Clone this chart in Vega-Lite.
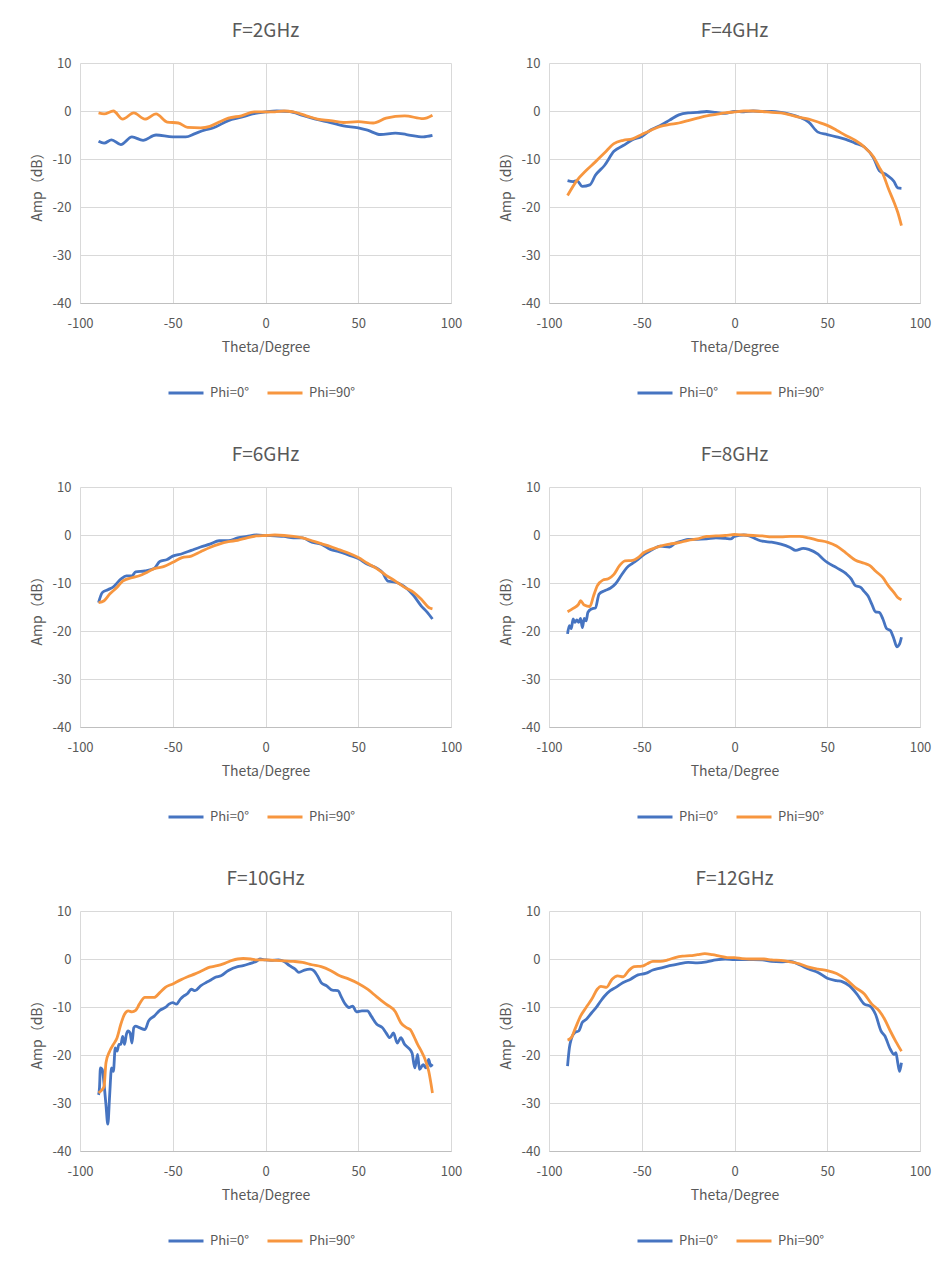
{
"$schema":"https://vega.github.io/schema/vega-lite/v6.json",
"background":"white",
"padding":{"top":22,"left":30,"right":5,"bottom":5},
"columns":2,
"spacing":{"column":37,"row":46},
"resolve":{"legend":{"color":"independent"}},
"datasets":{
"f2":[
{"p":"Phi=0°","t":-90,"a":-6.3},{"p":"Phi=0°","t":-87,"a":-6.7},{"p":"Phi=0°","t":-83,"a":-6.0},{"p":"Phi=0°","t":-78,"a":-7.0},{"p":"Phi=0°","t":-72,"a":-5.4},{"p":"Phi=0°","t":-66,"a":-6.1},{"p":"Phi=0°","t":-59,"a":-5.0},{"p":"Phi=0°","t":-50,"a":-5.4},{"p":"Phi=0°","t":-43,"a":-5.4},{"p":"Phi=0°","t":-38,"a":-4.7},{"p":"Phi=0°","t":-33,"a":-4.0},{"p":"Phi=0°","t":-28,"a":-3.5},{"p":"Phi=0°","t":-20,"a":-2.0},{"p":"Phi=0°","t":-13,"a":-1.3},{"p":"Phi=0°","t":-7,"a":-0.6},{"p":"Phi=0°","t":0,"a":-0.2},{"p":"Phi=0°","t":6,"a":0},{"p":"Phi=0°","t":13,"a":-0.1},{"p":"Phi=0°","t":20,"a":-0.9},{"p":"Phi=0°","t":27,"a":-1.7},{"p":"Phi=0°","t":35,"a":-2.4},{"p":"Phi=0°","t":42,"a":-3.1},{"p":"Phi=0°","t":50,"a":-3.5},{"p":"Phi=0°","t":55,"a":-4.0},{"p":"Phi=0°","t":62,"a":-4.9},{"p":"Phi=0°","t":70,"a":-4.6},{"p":"Phi=0°","t":76,"a":-4.9},{"p":"Phi=0°","t":85,"a":-5.4},{"p":"Phi=0°","t":90,"a":-5.1},
{"p":"Phi=90°","t":-90,"a":-0.4},{"p":"Phi=90°","t":-87,"a":-0.6},{"p":"Phi=90°","t":-82,"a":0},{"p":"Phi=90°","t":-77,"a":-1.7},{"p":"Phi=90°","t":-71,"a":-0.4},{"p":"Phi=90°","t":-65,"a":-1.7},{"p":"Phi=90°","t":-59,"a":-0.6},{"p":"Phi=90°","t":-53,"a":-2.3},{"p":"Phi=90°","t":-47,"a":-2.5},{"p":"Phi=90°","t":-42,"a":-3.4},{"p":"Phi=90°","t":-35,"a":-3.5},{"p":"Phi=90°","t":-30,"a":-3.2},{"p":"Phi=90°","t":-25,"a":-2.3},{"p":"Phi=90°","t":-20,"a":-1.5},{"p":"Phi=90°","t":-13,"a":-1.0},{"p":"Phi=90°","t":-6,"a":-0.2},{"p":"Phi=90°","t":-1,"a":-0.2},{"p":"Phi=90°","t":5,"a":-0.2},{"p":"Phi=90°","t":10,"a":0},{"p":"Phi=90°","t":15,"a":-0.2},{"p":"Phi=90°","t":22,"a":-1.0},{"p":"Phi=90°","t":28,"a":-1.7},{"p":"Phi=90°","t":35,"a":-2.0},{"p":"Phi=90°","t":42,"a":-2.4},{"p":"Phi=90°","t":50,"a":-2.2},{"p":"Phi=90°","t":58,"a":-2.5},{"p":"Phi=90°","t":65,"a":-1.5},{"p":"Phi=90°","t":75,"a":-1.0},{"p":"Phi=90°","t":85,"a":-1.6},{"p":"Phi=90°","t":90,"a":-0.9}
],
"f4":[
{"p":"Phi=0°","t":-90,"a":-14.5},{"p":"Phi=0°","t":-87,"a":-14.7},{"p":"Phi=0°","t":-85,"a":-14.5},{"p":"Phi=0°","t":-82,"a":-15.7},{"p":"Phi=0°","t":-78,"a":-15.4},{"p":"Phi=0°","t":-75,"a":-13.4},{"p":"Phi=0°","t":-70,"a":-11.3},{"p":"Phi=0°","t":-65,"a":-8.4},{"p":"Phi=0°","t":-60,"a":-7.2},{"p":"Phi=0°","t":-55,"a":-6.0},{"p":"Phi=0°","t":-50,"a":-5.3},{"p":"Phi=0°","t":-45,"a":-3.9},{"p":"Phi=0°","t":-40,"a":-3.0},{"p":"Phi=0°","t":-35,"a":-1.9},{"p":"Phi=0°","t":-30,"a":-0.8},{"p":"Phi=0°","t":-25,"a":-0.4},{"p":"Phi=0°","t":-20,"a":-0.3},{"p":"Phi=0°","t":-15,"a":-0.1},{"p":"Phi=0°","t":-10,"a":-0.3},{"p":"Phi=0°","t":-5,"a":-0.5},{"p":"Phi=0°","t":0,"a":-0.1},{"p":"Phi=0°","t":5,"a":-0.2},{"p":"Phi=0°","t":10,"a":0},{"p":"Phi=0°","t":15,"a":-0.1},{"p":"Phi=0°","t":20,"a":-0.1},{"p":"Phi=0°","t":25,"a":-0.3},{"p":"Phi=0°","t":30,"a":-0.7},{"p":"Phi=0°","t":35,"a":-1.3},{"p":"Phi=0°","t":40,"a":-2.3},{"p":"Phi=0°","t":45,"a":-4.4},{"p":"Phi=0°","t":50,"a":-4.9},{"p":"Phi=0°","t":55,"a":-5.4},{"p":"Phi=0°","t":60,"a":-5.9},{"p":"Phi=0°","t":65,"a":-6.7},{"p":"Phi=0°","t":70,"a":-7.5},{"p":"Phi=0°","t":75,"a":-9.8},{"p":"Phi=0°","t":78,"a":-12.4},{"p":"Phi=0°","t":82,"a":-13.3},{"p":"Phi=0°","t":86,"a":-14.7},{"p":"Phi=0°","t":88,"a":-16.0},{"p":"Phi=0°","t":90,"a":-16.1},
{"p":"Phi=90°","t":-90,"a":-17.6},{"p":"Phi=90°","t":-85,"a":-14.5},{"p":"Phi=90°","t":-80,"a":-12.4},{"p":"Phi=90°","t":-75,"a":-10.6},{"p":"Phi=90°","t":-70,"a":-8.7},{"p":"Phi=90°","t":-65,"a":-6.8},{"p":"Phi=90°","t":-60,"a":-6.1},{"p":"Phi=90°","t":-55,"a":-5.8},{"p":"Phi=90°","t":-50,"a":-4.9},{"p":"Phi=90°","t":-45,"a":-4.0},{"p":"Phi=90°","t":-40,"a":-3.2},{"p":"Phi=90°","t":-35,"a":-2.8},{"p":"Phi=90°","t":-30,"a":-2.5},{"p":"Phi=90°","t":-25,"a":-2.0},{"p":"Phi=90°","t":-20,"a":-1.5},{"p":"Phi=90°","t":-15,"a":-1.0},{"p":"Phi=90°","t":-10,"a":-0.7},{"p":"Phi=90°","t":-5,"a":-0.4},{"p":"Phi=90°","t":0,"a":-0.2},{"p":"Phi=90°","t":5,"a":0},{"p":"Phi=90°","t":10,"a":0},{"p":"Phi=90°","t":15,"a":-0.1},{"p":"Phi=90°","t":20,"a":-0.3},{"p":"Phi=90°","t":25,"a":-0.4},{"p":"Phi=90°","t":30,"a":-0.8},{"p":"Phi=90°","t":35,"a":-1.3},{"p":"Phi=90°","t":40,"a":-1.7},{"p":"Phi=90°","t":45,"a":-2.3},{"p":"Phi=90°","t":50,"a":-3.0},{"p":"Phi=90°","t":55,"a":-4.0},{"p":"Phi=90°","t":60,"a":-5.1},{"p":"Phi=90°","t":65,"a":-6.1},{"p":"Phi=90°","t":70,"a":-7.5},{"p":"Phi=90°","t":75,"a":-9.6},{"p":"Phi=90°","t":78,"a":-11.7},{"p":"Phi=90°","t":80,"a":-13.1},{"p":"Phi=90°","t":83,"a":-16.2},{"p":"Phi=90°","t":86,"a":-19.0},{"p":"Phi=90°","t":88,"a":-21.1},{"p":"Phi=90°","t":90,"a":-23.9}
],
"f6":[
{"p":"Phi=0°","t":-90,"a":-14.1},{"p":"Phi=0°","t":-88,"a":-12.0},{"p":"Phi=0°","t":-85,"a":-11.4},{"p":"Phi=0°","t":-82,"a":-10.8},{"p":"Phi=0°","t":-78,"a":-9.2},{"p":"Phi=0°","t":-75,"a":-8.5},{"p":"Phi=0°","t":-72,"a":-8.5},{"p":"Phi=0°","t":-70,"a":-7.7},{"p":"Phi=0°","t":-65,"a":-7.5},{"p":"Phi=0°","t":-60,"a":-7.0},{"p":"Phi=0°","t":-57,"a":-5.5},{"p":"Phi=0°","t":-53,"a":-5.1},{"p":"Phi=0°","t":-50,"a":-4.4},{"p":"Phi=0°","t":-45,"a":-3.9},{"p":"Phi=0°","t":-40,"a":-3.2},{"p":"Phi=0°","t":-35,"a":-2.5},{"p":"Phi=0°","t":-30,"a":-1.9},{"p":"Phi=0°","t":-25,"a":-1.2},{"p":"Phi=0°","t":-20,"a":-1.2},{"p":"Phi=0°","t":-15,"a":-0.6},{"p":"Phi=0°","t":-10,"a":-0.3},{"p":"Phi=0°","t":-5,"a":0},{"p":"Phi=0°","t":0,"a":-0.1},{"p":"Phi=0°","t":5,"a":-0.2},{"p":"Phi=0°","t":10,"a":-0.3},{"p":"Phi=0°","t":15,"a":-0.6},{"p":"Phi=0°","t":20,"a":-0.6},{"p":"Phi=0°","t":25,"a":-1.5},{"p":"Phi=0°","t":30,"a":-1.9},{"p":"Phi=0°","t":35,"a":-3.0},{"p":"Phi=0°","t":40,"a":-3.5},{"p":"Phi=0°","t":45,"a":-4.2},{"p":"Phi=0°","t":50,"a":-4.9},{"p":"Phi=0°","t":55,"a":-6.1},{"p":"Phi=0°","t":60,"a":-6.9},{"p":"Phi=0°","t":63,"a":-7.8},{"p":"Phi=0°","t":66,"a":-9.6},{"p":"Phi=0°","t":70,"a":-9.8},{"p":"Phi=0°","t":73,"a":-10.3},{"p":"Phi=0°","t":76,"a":-11.1},{"p":"Phi=0°","t":80,"a":-12.7},{"p":"Phi=0°","t":84,"a":-14.8},{"p":"Phi=0°","t":87,"a":-16.0},{"p":"Phi=0°","t":90,"a":-17.5},
{"p":"Phi=90°","t":-90,"a":-14.1},{"p":"Phi=90°","t":-87,"a":-13.7},{"p":"Phi=90°","t":-84,"a":-12.3},{"p":"Phi=90°","t":-80,"a":-10.9},{"p":"Phi=90°","t":-77,"a":-9.6},{"p":"Phi=90°","t":-72,"a":-8.9},{"p":"Phi=90°","t":-68,"a":-8.5},{"p":"Phi=90°","t":-64,"a":-7.8},{"p":"Phi=90°","t":-60,"a":-7.0},{"p":"Phi=90°","t":-55,"a":-6.6},{"p":"Phi=90°","t":-50,"a":-5.7},{"p":"Phi=90°","t":-45,"a":-4.7},{"p":"Phi=90°","t":-40,"a":-4.4},{"p":"Phi=90°","t":-35,"a":-3.5},{"p":"Phi=90°","t":-30,"a":-2.6},{"p":"Phi=90°","t":-25,"a":-1.9},{"p":"Phi=90°","t":-20,"a":-1.4},{"p":"Phi=90°","t":-15,"a":-1.1},{"p":"Phi=90°","t":-10,"a":-0.6},{"p":"Phi=90°","t":-5,"a":-0.2},{"p":"Phi=90°","t":0,"a":-0.1},{"p":"Phi=90°","t":5,"a":0},{"p":"Phi=90°","t":10,"a":-0.1},{"p":"Phi=90°","t":15,"a":-0.3},{"p":"Phi=90°","t":20,"a":-0.6},{"p":"Phi=90°","t":25,"a":-1.2},{"p":"Phi=90°","t":30,"a":-1.8},{"p":"Phi=90°","t":35,"a":-2.4},{"p":"Phi=90°","t":40,"a":-3.1},{"p":"Phi=90°","t":45,"a":-3.8},{"p":"Phi=90°","t":50,"a":-4.7},{"p":"Phi=90°","t":55,"a":-5.9},{"p":"Phi=90°","t":60,"a":-7.0},{"p":"Phi=90°","t":65,"a":-8.4},{"p":"Phi=90°","t":70,"a":-9.6},{"p":"Phi=90°","t":75,"a":-10.9},{"p":"Phi=90°","t":80,"a":-12.0},{"p":"Phi=90°","t":84,"a":-13.4},{"p":"Phi=90°","t":88,"a":-15.1},{"p":"Phi=90°","t":90,"a":-15.4}
],
"f8":[
{"p":"Phi=0°","t":-90,"a":-20.6},{"p":"Phi=0°","t":-89,"a":-18.9},{"p":"Phi=0°","t":-88,"a":-19.5},{"p":"Phi=0°","t":-87,"a":-17.5},{"p":"Phi=0°","t":-86,"a":-18.2},{"p":"Phi=0°","t":-85,"a":-17.7},{"p":"Phi=0°","t":-84,"a":-18.2},{"p":"Phi=0°","t":-83,"a":-17.4},{"p":"Phi=0°","t":-82,"a":-19.3},{"p":"Phi=0°","t":-81,"a":-17.4},{"p":"Phi=0°","t":-80,"a":-17.9},{"p":"Phi=0°","t":-79,"a":-16.1},{"p":"Phi=0°","t":-77,"a":-15.4},{"p":"Phi=0°","t":-75,"a":-15.2},{"p":"Phi=0°","t":-73,"a":-12.3},{"p":"Phi=0°","t":-70,"a":-11.6},{"p":"Phi=0°","t":-67,"a":-11.1},{"p":"Phi=0°","t":-64,"a":-10.1},{"p":"Phi=0°","t":-61,"a":-8.4},{"p":"Phi=0°","t":-58,"a":-6.8},{"p":"Phi=0°","t":-55,"a":-5.9},{"p":"Phi=0°","t":-52,"a":-5.1},{"p":"Phi=0°","t":-50,"a":-4.4},{"p":"Phi=0°","t":-45,"a":-3.2},{"p":"Phi=0°","t":-40,"a":-2.3},{"p":"Phi=0°","t":-35,"a":-2.5},{"p":"Phi=0°","t":-32,"a":-1.7},{"p":"Phi=0°","t":-28,"a":-1.2},{"p":"Phi=0°","t":-25,"a":-0.9},{"p":"Phi=0°","t":-20,"a":-0.9},{"p":"Phi=0°","t":-15,"a":-0.8},{"p":"Phi=0°","t":-10,"a":-0.6},{"p":"Phi=0°","t":-5,"a":-0.7},{"p":"Phi=0°","t":-2,"a":-0.8},{"p":"Phi=0°","t":0,"a":-0.3},{"p":"Phi=0°","t":5,"a":0},{"p":"Phi=0°","t":8,"a":-0.2},{"p":"Phi=0°","t":12,"a":-0.9},{"p":"Phi=0°","t":15,"a":-1.3},{"p":"Phi=0°","t":20,"a":-1.5},{"p":"Phi=0°","t":25,"a":-1.9},{"p":"Phi=0°","t":30,"a":-2.6},{"p":"Phi=0°","t":33,"a":-3.2},{"p":"Phi=0°","t":37,"a":-2.8},{"p":"Phi=0°","t":40,"a":-3.0},{"p":"Phi=0°","t":45,"a":-4.0},{"p":"Phi=0°","t":48,"a":-5.1},{"p":"Phi=0°","t":50,"a":-5.7},{"p":"Phi=0°","t":55,"a":-6.8},{"p":"Phi=0°","t":60,"a":-8.0},{"p":"Phi=0°","t":63,"a":-9.2},{"p":"Phi=0°","t":65,"a":-10.5},{"p":"Phi=0°","t":68,"a":-10.9},{"p":"Phi=0°","t":70,"a":-11.8},{"p":"Phi=0°","t":72,"a":-12.7},{"p":"Phi=0°","t":74,"a":-14.4},{"p":"Phi=0°","t":76,"a":-16.0},{"p":"Phi=0°","t":78,"a":-16.1},{"p":"Phi=0°","t":80,"a":-17.5},{"p":"Phi=0°","t":82,"a":-19.5},{"p":"Phi=0°","t":84,"a":-19.9},{"p":"Phi=0°","t":86,"a":-21.7},{"p":"Phi=0°","t":87.5,"a":-23.3},{"p":"Phi=0°","t":89,"a":-22.7},{"p":"Phi=0°","t":90,"a":-21.3},
{"p":"Phi=90°","t":-90,"a":-16.0},{"p":"Phi=90°","t":-87,"a":-15.3},{"p":"Phi=90°","t":-84,"a":-14.4},{"p":"Phi=90°","t":-83,"a":-13.7},{"p":"Phi=90°","t":-81,"a":-14.6},{"p":"Phi=90°","t":-78,"a":-14.9},{"p":"Phi=90°","t":-76,"a":-12.7},{"p":"Phi=90°","t":-74,"a":-10.6},{"p":"Phi=90°","t":-71,"a":-9.4},{"p":"Phi=90°","t":-68,"a":-9.1},{"p":"Phi=90°","t":-65,"a":-8.2},{"p":"Phi=90°","t":-62,"a":-6.4},{"p":"Phi=90°","t":-59,"a":-5.4},{"p":"Phi=90°","t":-55,"a":-5.3},{"p":"Phi=90°","t":-52,"a":-4.7},{"p":"Phi=90°","t":-49,"a":-3.7},{"p":"Phi=90°","t":-45,"a":-3.0},{"p":"Phi=90°","t":-40,"a":-2.3},{"p":"Phi=90°","t":-35,"a":-1.9},{"p":"Phi=90°","t":-30,"a":-1.6},{"p":"Phi=90°","t":-25,"a":-1.1},{"p":"Phi=90°","t":-20,"a":-0.8},{"p":"Phi=90°","t":-15,"a":-0.3},{"p":"Phi=90°","t":-10,"a":-0.2},{"p":"Phi=90°","t":-5,"a":-0.1},{"p":"Phi=90°","t":0,"a":0.1},{"p":"Phi=90°","t":5,"a":0},{"p":"Phi=90°","t":10,"a":-0.1},{"p":"Phi=90°","t":15,"a":-0.2},{"p":"Phi=90°","t":20,"a":-0.4},{"p":"Phi=90°","t":25,"a":-0.4},{"p":"Phi=90°","t":30,"a":-0.3},{"p":"Phi=90°","t":35,"a":-0.3},{"p":"Phi=90°","t":40,"a":-0.6},{"p":"Phi=90°","t":45,"a":-1.1},{"p":"Phi=90°","t":50,"a":-1.5},{"p":"Phi=90°","t":55,"a":-2.3},{"p":"Phi=90°","t":60,"a":-3.7},{"p":"Phi=90°","t":65,"a":-5.2},{"p":"Phi=90°","t":70,"a":-5.9},{"p":"Phi=90°","t":73,"a":-6.4},{"p":"Phi=90°","t":76,"a":-7.5},{"p":"Phi=90°","t":80,"a":-8.9},{"p":"Phi=90°","t":83,"a":-10.6},{"p":"Phi=90°","t":86,"a":-12.0},{"p":"Phi=90°","t":88,"a":-13.0},{"p":"Phi=90°","t":90,"a":-13.5}
],
"f10":[
{"p":"Phi=0°","t":-90,"a":-28.3},{"p":"Phi=0°","t":-89.5,"a":-26.9},{"p":"Phi=0°","t":-89,"a":-22.7},{"p":"Phi=0°","t":-88,"a":-23.0},{"p":"Phi=0°","t":-87,"a":-26.2},{"p":"Phi=0°","t":-86,"a":-30.4},{"p":"Phi=0°","t":-85,"a":-34.4},{"p":"Phi=0°","t":-84,"a":-28.3},{"p":"Phi=0°","t":-83,"a":-22.7},{"p":"Phi=0°","t":-82,"a":-23.4},{"p":"Phi=0°","t":-81,"a":-18.5},{"p":"Phi=0°","t":-80,"a":-19.2},{"p":"Phi=0°","t":-79,"a":-17.8},{"p":"Phi=0°","t":-78,"a":-17.8},{"p":"Phi=0°","t":-77,"a":-16.1},{"p":"Phi=0°","t":-76,"a":-17.8},{"p":"Phi=0°","t":-75,"a":-15.7},{"p":"Phi=0°","t":-74,"a":-15.0},{"p":"Phi=0°","t":-73,"a":-15.4},{"p":"Phi=0°","t":-72,"a":-17.5},{"p":"Phi=0°","t":-71,"a":-14.3},{"p":"Phi=0°","t":-70,"a":-14.0},{"p":"Phi=0°","t":-68,"a":-14.3},{"p":"Phi=0°","t":-65,"a":-14.7},{"p":"Phi=0°","t":-63,"a":-12.9},{"p":"Phi=0°","t":-60,"a":-11.9},{"p":"Phi=0°","t":-57,"a":-10.7},{"p":"Phi=0°","t":-54,"a":-10.1},{"p":"Phi=0°","t":-52,"a":-9.4},{"p":"Phi=0°","t":-50,"a":-9.1},{"p":"Phi=0°","t":-48,"a":-9.4},{"p":"Phi=0°","t":-46,"a":-8.4},{"p":"Phi=0°","t":-44,"a":-7.7},{"p":"Phi=0°","t":-42,"a":-7.2},{"p":"Phi=0°","t":-40,"a":-6.3},{"p":"Phi=0°","t":-38,"a":-6.6},{"p":"Phi=0°","t":-35,"a":-5.6},{"p":"Phi=0°","t":-32,"a":-4.9},{"p":"Phi=0°","t":-30,"a":-4.5},{"p":"Phi=0°","t":-27,"a":-3.8},{"p":"Phi=0°","t":-24,"a":-3.5},{"p":"Phi=0°","t":-20,"a":-2.4},{"p":"Phi=0°","t":-15,"a":-1.6},{"p":"Phi=0°","t":-12,"a":-1.4},{"p":"Phi=0°","t":-8,"a":-0.9},{"p":"Phi=0°","t":-5,"a":-0.5},{"p":"Phi=0°","t":-3,"a":0},{"p":"Phi=0°","t":0,"a":-0.2},{"p":"Phi=0°","t":3,"a":-0.3},{"p":"Phi=0°","t":7,"a":-0.2},{"p":"Phi=0°","t":10,"a":-0.5},{"p":"Phi=0°","t":13,"a":-1.4},{"p":"Phi=0°","t":16,"a":-2.1},{"p":"Phi=0°","t":18,"a":-2.8},{"p":"Phi=0°","t":21,"a":-2.3},{"p":"Phi=0°","t":24,"a":-2.1},{"p":"Phi=0°","t":26,"a":-2.4},{"p":"Phi=0°","t":28,"a":-3.5},{"p":"Phi=0°","t":30,"a":-4.9},{"p":"Phi=0°","t":33,"a":-5.6},{"p":"Phi=0°","t":36,"a":-6.5},{"p":"Phi=0°","t":39,"a":-6.6},{"p":"Phi=0°","t":41,"a":-8.0},{"p":"Phi=0°","t":43,"a":-9.4},{"p":"Phi=0°","t":45,"a":-10.1},{"p":"Phi=0°","t":47,"a":-9.8},{"p":"Phi=0°","t":49,"a":-11.0},{"p":"Phi=0°","t":52,"a":-10.8},{"p":"Phi=0°","t":55,"a":-10.8},{"p":"Phi=0°","t":57,"a":-11.9},{"p":"Phi=0°","t":60,"a":-13.6},{"p":"Phi=0°","t":63,"a":-14.3},{"p":"Phi=0°","t":65,"a":-15.4},{"p":"Phi=0°","t":67,"a":-16.4},{"p":"Phi=0°","t":69,"a":-15.4},{"p":"Phi=0°","t":71,"a":-17.5},{"p":"Phi=0°","t":73,"a":-16.4},{"p":"Phi=0°","t":75,"a":-17.8},{"p":"Phi=0°","t":77,"a":-18.5},{"p":"Phi=0°","t":79,"a":-19.6},{"p":"Phi=0°","t":80.5,"a":-22.7},{"p":"Phi=0°","t":82,"a":-19.9},{"p":"Phi=0°","t":83,"a":-23.0},{"p":"Phi=0°","t":85,"a":-22.0},{"p":"Phi=0°","t":86.5,"a":-22.7},{"p":"Phi=0°","t":88,"a":-20.9},{"p":"Phi=0°","t":89,"a":-22.3},{"p":"Phi=0°","t":90,"a":-21.9},
{"p":"Phi=90°","t":-90,"a":-27.9},{"p":"Phi=90°","t":-88,"a":-27.2},{"p":"Phi=90°","t":-87,"a":-26.5},{"p":"Phi=90°","t":-86,"a":-21.6},{"p":"Phi=90°","t":-84,"a":-19.2},{"p":"Phi=90°","t":-82,"a":-17.8},{"p":"Phi=90°","t":-80,"a":-16.4},{"p":"Phi=90°","t":-78,"a":-13.6},{"p":"Phi=90°","t":-76,"a":-11.5},{"p":"Phi=90°","t":-74,"a":-10.8},{"p":"Phi=90°","t":-72,"a":-11.0},{"p":"Phi=90°","t":-70,"a":-10.7},{"p":"Phi=90°","t":-68,"a":-9.4},{"p":"Phi=90°","t":-65,"a":-8.0},{"p":"Phi=90°","t":-62,"a":-8.0},{"p":"Phi=90°","t":-60,"a":-8.0},{"p":"Phi=90°","t":-57,"a":-7.0},{"p":"Phi=90°","t":-54,"a":-5.9},{"p":"Phi=90°","t":-50,"a":-5.2},{"p":"Phi=90°","t":-46,"a":-4.4},{"p":"Phi=90°","t":-42,"a":-3.7},{"p":"Phi=90°","t":-38,"a":-3.1},{"p":"Phi=90°","t":-34,"a":-2.4},{"p":"Phi=90°","t":-30,"a":-1.7},{"p":"Phi=90°","t":-26,"a":-1.4},{"p":"Phi=90°","t":-22,"a":-0.9},{"p":"Phi=90°","t":-18,"a":-0.3},{"p":"Phi=90°","t":-15,"a":0},{"p":"Phi=90°","t":-12,"a":0.1},{"p":"Phi=90°","t":-8,"a":0},{"p":"Phi=90°","t":-5,"a":-0.2},{"p":"Phi=90°","t":0,"a":-0.2},{"p":"Phi=90°","t":5,"a":-0.3},{"p":"Phi=90°","t":10,"a":-0.4},{"p":"Phi=90°","t":15,"a":-0.5},{"p":"Phi=90°","t":20,"a":-0.7},{"p":"Phi=90°","t":25,"a":-1.2},{"p":"Phi=90°","t":30,"a":-1.6},{"p":"Phi=90°","t":35,"a":-2.4},{"p":"Phi=90°","t":40,"a":-3.5},{"p":"Phi=90°","t":45,"a":-4.2},{"p":"Phi=90°","t":50,"a":-5.1},{"p":"Phi=90°","t":55,"a":-6.3},{"p":"Phi=90°","t":60,"a":-7.9},{"p":"Phi=90°","t":65,"a":-9.4},{"p":"Phi=90°","t":70,"a":-11.0},{"p":"Phi=90°","t":73,"a":-13.3},{"p":"Phi=90°","t":76,"a":-14.3},{"p":"Phi=90°","t":78,"a":-14.7},{"p":"Phi=90°","t":80,"a":-16.1},{"p":"Phi=90°","t":82,"a":-17.8},{"p":"Phi=90°","t":84,"a":-19.2},{"p":"Phi=90°","t":86,"a":-20.9},{"p":"Phi=90°","t":88,"a":-23.4},{"p":"Phi=90°","t":90,"a":-27.9}
],
"f12":[
{"p":"Phi=0°","t":-90,"a":-22.3},{"p":"Phi=0°","t":-89,"a":-18.5},{"p":"Phi=0°","t":-88,"a":-16.7},{"p":"Phi=0°","t":-86,"a":-15.3},{"p":"Phi=0°","t":-84,"a":-15.0},{"p":"Phi=0°","t":-82,"a":-13.2},{"p":"Phi=0°","t":-80,"a":-12.6},{"p":"Phi=0°","t":-77,"a":-11.2},{"p":"Phi=0°","t":-74,"a":-9.8},{"p":"Phi=0°","t":-72,"a":-8.7},{"p":"Phi=0°","t":-70,"a":-7.7},{"p":"Phi=0°","t":-67,"a":-6.6},{"p":"Phi=0°","t":-64,"a":-5.9},{"p":"Phi=0°","t":-60,"a":-4.9},{"p":"Phi=0°","t":-56,"a":-4.2},{"p":"Phi=0°","t":-52,"a":-3.3},{"p":"Phi=0°","t":-48,"a":-3.0},{"p":"Phi=0°","t":-44,"a":-2.3},{"p":"Phi=0°","t":-40,"a":-1.9},{"p":"Phi=0°","t":-35,"a":-1.4},{"p":"Phi=0°","t":-30,"a":-1.0},{"p":"Phi=0°","t":-25,"a":-0.7},{"p":"Phi=0°","t":-20,"a":-0.8},{"p":"Phi=0°","t":-15,"a":-0.6},{"p":"Phi=0°","t":-10,"a":-0.2},{"p":"Phi=0°","t":-5,"a":0},{"p":"Phi=0°","t":0,"a":-0.1},{"p":"Phi=0°","t":5,"a":-0.1},{"p":"Phi=0°","t":10,"a":-0.1},{"p":"Phi=0°","t":15,"a":-0.2},{"p":"Phi=0°","t":20,"a":-0.5},{"p":"Phi=0°","t":25,"a":-0.6},{"p":"Phi=0°","t":30,"a":-0.5},{"p":"Phi=0°","t":35,"a":-1.2},{"p":"Phi=0°","t":40,"a":-2.1},{"p":"Phi=0°","t":45,"a":-2.8},{"p":"Phi=0°","t":50,"a":-4.0},{"p":"Phi=0°","t":55,"a":-4.5},{"p":"Phi=0°","t":58,"a":-4.7},{"p":"Phi=0°","t":62,"a":-5.6},{"p":"Phi=0°","t":66,"a":-7.3},{"p":"Phi=0°","t":70,"a":-9.4},{"p":"Phi=0°","t":73,"a":-9.8},{"p":"Phi=0°","t":76,"a":-11.5},{"p":"Phi=0°","t":79,"a":-15.0},{"p":"Phi=0°","t":81,"a":-16.0},{"p":"Phi=0°","t":84,"a":-18.8},{"p":"Phi=0°","t":86,"a":-19.9},{"p":"Phi=0°","t":87,"a":-19.5},{"p":"Phi=0°","t":88,"a":-21.6},{"p":"Phi=0°","t":89,"a":-23.4},{"p":"Phi=0°","t":90,"a":-21.6},
{"p":"Phi=90°","t":-90,"a":-16.9},{"p":"Phi=90°","t":-88,"a":-16.4},{"p":"Phi=90°","t":-86,"a":-14.6},{"p":"Phi=90°","t":-83,"a":-11.9},{"p":"Phi=90°","t":-80,"a":-10.1},{"p":"Phi=90°","t":-77,"a":-8.4},{"p":"Phi=90°","t":-74,"a":-6.3},{"p":"Phi=90°","t":-72,"a":-5.7},{"p":"Phi=90°","t":-69,"a":-5.9},{"p":"Phi=90°","t":-66,"a":-4.2},{"p":"Phi=90°","t":-63,"a":-3.5},{"p":"Phi=90°","t":-60,"a":-3.7},{"p":"Phi=90°","t":-57,"a":-2.4},{"p":"Phi=90°","t":-54,"a":-1.6},{"p":"Phi=90°","t":-50,"a":-1.5},{"p":"Phi=90°","t":-47,"a":-1.0},{"p":"Phi=90°","t":-44,"a":-0.5},{"p":"Phi=90°","t":-40,"a":-0.5},{"p":"Phi=90°","t":-36,"a":-0.2},{"p":"Phi=90°","t":-32,"a":0.3},{"p":"Phi=90°","t":-28,"a":0.6},{"p":"Phi=90°","t":-24,"a":0.7},{"p":"Phi=90°","t":-20,"a":0.9},{"p":"Phi=90°","t":-16,"a":1.1},{"p":"Phi=90°","t":-12,"a":0.9},{"p":"Phi=90°","t":-8,"a":0.6},{"p":"Phi=90°","t":-4,"a":0.3},{"p":"Phi=90°","t":0,"a":0.3},{"p":"Phi=90°","t":4,"a":0.1},{"p":"Phi=90°","t":8,"a":0},{"p":"Phi=90°","t":12,"a":0},{"p":"Phi=90°","t":16,"a":0},{"p":"Phi=90°","t":20,"a":-0.2},{"p":"Phi=90°","t":25,"a":-0.3},{"p":"Phi=90°","t":30,"a":-0.6},{"p":"Phi=90°","t":35,"a":-1.0},{"p":"Phi=90°","t":40,"a":-1.7},{"p":"Phi=90°","t":45,"a":-2.1},{"p":"Phi=90°","t":50,"a":-2.4},{"p":"Phi=90°","t":55,"a":-3.0},{"p":"Phi=90°","t":60,"a":-4.2},{"p":"Phi=90°","t":65,"a":-5.9},{"p":"Phi=90°","t":70,"a":-7.3},{"p":"Phi=90°","t":74,"a":-9.4},{"p":"Phi=90°","t":78,"a":-10.8},{"p":"Phi=90°","t":81,"a":-12.6},{"p":"Phi=90°","t":84,"a":-15.0},{"p":"Phi=90°","t":87,"a":-17.2},{"p":"Phi=90°","t":90,"a":-19.2}
]
},
"concat":[
{"title":"F=2GHz","data":{"name":"f2"},"width":371,"height":240,"mark":{"type":"line","strokeWidth":2.8,"interpolate":"monotone"},
"encoding":{"x":{"field":"t","type":"quantitative","scale":{"domain":[-100,100]},"axis":{"values":[-100,-50,0,50,100],"title":"Theta/Degree"}},"y":{"field":"a","type":"quantitative","scale":{"domain":[-40,10]},"axis":{"values":[-40,-30,-20,-10,0,10],"title":"Amp（dB）"}},"color":{"field":"p","type":"nominal","scale":{"domain":["Phi=0°","Phi=90°"],"range":["#4674C1","#F7963F"]},"legend":{"title":null}}}},
{"title":"F=4GHz","data":{"name":"f4"},"width":371,"height":240,"mark":{"type":"line","strokeWidth":2.8,"interpolate":"monotone"},
"encoding":{"x":{"field":"t","type":"quantitative","scale":{"domain":[-100,100]},"axis":{"values":[-100,-50,0,50,100],"title":"Theta/Degree"}},"y":{"field":"a","type":"quantitative","scale":{"domain":[-40,10]},"axis":{"values":[-40,-30,-20,-10,0,10],"title":"Amp（dB）"}},"color":{"field":"p","type":"nominal","scale":{"domain":["Phi=0°","Phi=90°"],"range":["#4674C1","#F7963F"]},"legend":{"title":null}}}},
{"title":"F=6GHz","data":{"name":"f6"},"width":371,"height":240,"mark":{"type":"line","strokeWidth":2.8,"interpolate":"monotone"},
"encoding":{"x":{"field":"t","type":"quantitative","scale":{"domain":[-100,100]},"axis":{"values":[-100,-50,0,50,100],"title":"Theta/Degree"}},"y":{"field":"a","type":"quantitative","scale":{"domain":[-40,10]},"axis":{"values":[-40,-30,-20,-10,0,10],"title":"Amp（dB）"}},"color":{"field":"p","type":"nominal","scale":{"domain":["Phi=0°","Phi=90°"],"range":["#4674C1","#F7963F"]},"legend":{"title":null}}}},
{"title":"F=8GHz","data":{"name":"f8"},"width":371,"height":240,"mark":{"type":"line","strokeWidth":2.8,"interpolate":"monotone"},
"encoding":{"x":{"field":"t","type":"quantitative","scale":{"domain":[-100,100]},"axis":{"values":[-100,-50,0,50,100],"title":"Theta/Degree"}},"y":{"field":"a","type":"quantitative","scale":{"domain":[-40,10]},"axis":{"values":[-40,-30,-20,-10,0,10],"title":"Amp（dB）"}},"color":{"field":"p","type":"nominal","scale":{"domain":["Phi=0°","Phi=90°"],"range":["#4674C1","#F7963F"]},"legend":{"title":null}}}},
{"title":"F=10GHz","data":{"name":"f10"},"width":371,"height":240,"mark":{"type":"line","strokeWidth":2.8,"interpolate":"monotone"},
"encoding":{"x":{"field":"t","type":"quantitative","scale":{"domain":[-100,100]},"axis":{"values":[-100,-50,0,50,100],"title":"Theta/Degree"}},"y":{"field":"a","type":"quantitative","scale":{"domain":[-40,10]},"axis":{"values":[-40,-30,-20,-10,0,10],"title":"Amp（dB）"}},"color":{"field":"p","type":"nominal","scale":{"domain":["Phi=0°","Phi=90°"],"range":["#4674C1","#F7963F"]},"legend":{"title":null}}}},
{"title":"F=12GHz","data":{"name":"f12"},"width":371,"height":240,"mark":{"type":"line","strokeWidth":2.8,"interpolate":"monotone"},
"encoding":{"x":{"field":"t","type":"quantitative","scale":{"domain":[-100,100]},"axis":{"values":[-100,-50,0,50,100],"title":"Theta/Degree"}},"y":{"field":"a","type":"quantitative","scale":{"domain":[-40,10]},"axis":{"values":[-40,-30,-20,-10,0,10],"title":"Amp（dB）"}},"color":{"field":"p","type":"nominal","scale":{"domain":["Phi=0°","Phi=90°"],"range":["#4674C1","#F7963F"]},"legend":{"title":null}}}}
],
"config":{
"font":"Noto Sans CJK SC",
"view":{"stroke":null},
"title":{"fontSize":19,"fontWeight":"normal","color":"#595959","anchor":"middle","offset":16,"font":"Noto Sans CJK SC"},
"axis":{"gridColor":"#d9d9d9","gridWidth":1,"labelColor":"#595959","labelFontSize":13,"titleColor":"#595959","titleFontSize":14,"titleFontWeight":"normal","labelFont":"Noto Sans CJK SC","titleFont":"Noto Sans CJK SC","labelExpr":"datum.value + ''"},
"axisX":{"domainColor":"#bfbfbf","ticks":false,"tickSize":0,"labelPadding":14,"titlePadding":10,"labelFlush":false},
"axisY":{"domain":false,"ticks":false,"labelPadding":9,"titlePadding":8},
"legend":{"orient":"none","legendX":87,"legendY":311,"direction":"horizontal","symbolType":"stroke","symbolSize":1225,"symbolStrokeWidth":3,"labelFontSize":13,"labelColor":"#595959","labelOffset":5,"columnPadding":12,"labelFont":"Noto Sans CJK SC"}
}
}
